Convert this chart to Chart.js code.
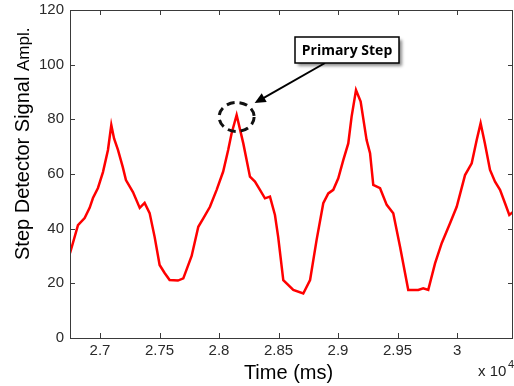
<!DOCTYPE html>
<html>
<head>
<meta charset="utf-8">
<script src="https://cdn.jsdelivr.net/npm/chart.js@4/dist/chart.umd.min.js"></script>
<style>
  html, body { margin: 0; padding: 0; background: #fff; }
  #wrap { width: 514px; height: 386px; position: relative; }
</style>
</head>
<body>
<div id="wrap"><canvas id="c" width="514" height="386"></canvas></div>
<script>
// ---- data ----
const times = [26748, 26815, 26871, 26913, 26941, 26983, 27025, 27067, 27095, 27118, 27151, 27191,
  27218, 27277, 27334, 27375, 27417, 27459, 27501, 27543, 27585, 27655, 27700, 27770,
  27826, 27868, 27924, 27980, 28035, 28077, 28106, 28148, 28204, 28260, 28302, 28344,
  28386, 28428, 28470, 28497, 28540, 28624, 28708, 28765, 28820, 28876, 28918, 28960,
  29002, 29044, 29086, 29114, 29151, 29190, 29240, 29269, 29296, 29353, 29409, 29464,
  29521, 29590, 29674, 29716, 29758, 29815, 29871, 29941, 29997, 30067, 30123, 30165,
  30198, 30234, 30277, 30319, 30361, 30403, 30439, 30473];
const amplitudes = [31, 41.3, 43.9, 47.6, 51.2, 54.9, 60.7, 68.8, 77.9, 73, 68.8, 62.6,
  57.8, 53.4, 47.6, 49.4, 45.7, 37, 26.7, 23.8, 21.2, 21, 21.8, 30,
  40.7, 43.8, 48, 54.2, 60.9, 68.8, 74.9, 81.6, 71.2, 59, 57.2, 54.2,
  51.1, 51.7, 45, 37, 21.2, 17.6, 16.3, 21.2, 35.9, 49.3, 52.9, 54.2,
  58.4, 65.1, 71.2, 81, 90.7, 86.5, 72.4, 67.6, 56, 54.8, 48.7, 45.6,
  33.4, 17.6, 17.6, 18.2, 17.6, 27.3, 34.7, 42, 48, 59.6, 63.9, 72.4,
  78.6, 71.2, 61.5, 57.2, 54.2, 49.3, 45, 46.2];
const xTickValues = [27000, 27500, 28000, 28500, 29000, 29500, 30000];
const xTickLabels = ['2.7', '2.75', '2.8', '2.85', '2.9', '2.95', '3'];
const yTickValues = [0, 20, 40, 60, 80, 100, 120];
const yTickLabels = ['0', '20', '40', '60', '80', '100', '120'];
const xMin = 26748, xMax = 30470;
const primaryStepTime = 28148, primaryStepValue = 81.6;
const annotationText = 'Primary Step';
const xTitle = 'Time (ms)';
const yTitleMain = 'Step Detector Signal';
const yTitleSmall = 'Ampl.';

const points = times.map((t, i) => ({ x: t, y: amplitudes[i] }));

const decor = {
  id: 'decor',
  afterDraw(chart) {
    const ctx = chart.ctx;
    const a = chart.chartArea;
    const xs = chart.scales.x, ys = chart.scales.y;
    ctx.save();
    // box
    ctx.strokeStyle = '#3a3a3a';
    ctx.lineWidth = 1;
    ctx.strokeRect(Math.round(a.left) + 0.5, Math.round(a.top) + 0.5,
      Math.round(a.right - a.left) - 1, Math.round(a.bottom - a.top));
    // inward ticks
    const tl = 5;
    ctx.beginPath();
    xTickValues.forEach(v => {
      const px = Math.round(xs.getPixelForValue(v)) + 0.5;
      ctx.moveTo(px, a.bottom); ctx.lineTo(px, a.bottom - tl);
      ctx.moveTo(px, a.top); ctx.lineTo(px, a.top + tl);
    });
    yTickValues.forEach(v => {
      const py = Math.round(ys.getPixelForValue(v)) + 0.5;
      ctx.moveTo(a.left, py); ctx.lineTo(a.left + tl, py);
      ctx.moveTo(a.right, py); ctx.lineTo(a.right - tl, py);
    });
    ctx.stroke();

    // axis titles
    ctx.fillStyle = '#000';
    ctx.font = '20px "Liberation Sans", Arial, sans-serif';
    ctx.textAlign = 'center';
    ctx.textBaseline = 'alphabetic';
    ctx.fillText(xTitle, (a.left + a.right) / 2 - 3, 379);

    ctx.save();
    ctx.translate(29, 260);
    ctx.rotate(-Math.PI / 2);
    ctx.textAlign = 'left';
    ctx.font = '20px "Liberation Sans", Arial, sans-serif';
    const mainStr = yTitleMain + ' ';
    ctx.fillText(mainStr, 0, 0);
    const w = ctx.measureText(mainStr).width;
    ctx.font = '17px "Liberation Sans", Arial, sans-serif';
    ctx.fillText(yTitleSmall, w, 0);
    ctx.restore();

    // x 10^4 multiplier
    ctx.fillStyle = '#222';
    ctx.textAlign = 'left';
    ctx.font = '15px "Liberation Sans", Arial, sans-serif';
    ctx.fillText('x 10', 478, 376);
    ctx.font = '11px "Liberation Sans", Arial, sans-serif';
    ctx.fillText('4', 508, 368);

    // annotation: dashed ellipse around the primary step peak
    const cx = xs.getPixelForValue(primaryStepTime);
    const cy = ys.getPixelForValue(primaryStepValue) + 2;
    ctx.strokeStyle = '#111';
    ctx.lineWidth = 3;
    ctx.setLineDash([8, 5]);
    ctx.beginPath();
    ctx.ellipse(cx, cy, 17.5, 14.5, 0, 0, Math.PI * 2);
    ctx.stroke();
    ctx.setLineDash([]);

    // arrow from label box to the ellipse
    const sx = 325, sy = 63;
    const ex = cx + 18, ey = cy - 14;
    ctx.strokeStyle = '#000';
    ctx.fillStyle = '#000';
    ctx.lineWidth = 2;
    const ang = Math.atan2(ey - sy, ex - sx);
    const hl = 11, hw = 5;
    const bx = ex - hl * Math.cos(ang), by = ey - hl * Math.sin(ang);
    ctx.beginPath();
    ctx.moveTo(sx, sy); ctx.lineTo(bx + 2 * Math.cos(ang), by + 2 * Math.sin(ang));
    ctx.stroke();
    ctx.beginPath();
    ctx.moveTo(ex, ey);
    ctx.lineTo(bx + hw * Math.sin(ang), by - hw * Math.cos(ang));
    ctx.lineTo(bx - hw * Math.sin(ang), by + hw * Math.cos(ang));
    ctx.closePath();
    ctx.fill();

    // label box with shadow
    const bxL = 295, byT = 37, bw = 104, bh = 26;
    ctx.save();
    ctx.shadowColor = 'rgba(0,0,0,0.45)';
    ctx.shadowOffsetX = 3; ctx.shadowOffsetY = 3; ctx.shadowBlur = 3;
    ctx.fillStyle = '#fff';
    ctx.fillRect(bxL, byT, bw, bh);
    ctx.restore();
    ctx.strokeStyle = '#000';
    ctx.lineWidth = 1.5;
    ctx.strokeRect(bxL, byT, bw, bh);
    ctx.fillStyle = '#000';
    ctx.font = 'bold 14px "Open Sans", "Liberation Sans", sans-serif';
    ctx.textAlign = 'center';
    ctx.textBaseline = 'middle';
    ctx.fillText(annotationText, bxL + bw / 2, byT + bh / 2 + 1);
    ctx.restore();
  }
};

const noPad = s => { s.paddingTop = 0; s.paddingBottom = 0; s.paddingLeft = 0; s.paddingRight = 0; };

new Chart(document.getElementById('c'), {
  type: 'line',
  data: {
    datasets: [{
      data: points,
      borderColor: '#ff0000',
      borderWidth: 2.5,
      pointRadius: 0,
      tension: 0,
      fill: false
    }]
  },
  options: {
    responsive: false,
    animation: false,
    events: [],
    layout: { padding: { top: 10, right: 1, left: 0, bottom: 0 } },
    plugins: { legend: { display: false }, tooltip: { enabled: false } },
    scales: {
      x: {
        type: 'linear',
        min: xMin, max: xMax,
        afterBuildTicks: s => { s.ticks = xTickValues.map(v => ({ value: v })); },
        afterFit: s => { s.height = 48; noPad(s); },
        grid: { display: false, drawTicks: false },
        border: { display: false },
        ticks: {
          autoSkip: false, maxRotation: 0, padding: 4,
          color: '#2a2a2a',
          font: { family: '"Liberation Sans", Arial, sans-serif', size: 15 },
          callback: (v, i) => xTickLabels[i]
        }
      },
      y: {
        min: 0, max: 120,
        afterBuildTicks: s => { s.ticks = yTickValues.map(v => ({ value: v })); },
        afterFit: s => { s.width = 70; noPad(s); },
        grid: { display: false, drawTicks: false },
        border: { display: false },
        ticks: {
          autoSkip: false, padding: 6,
          color: '#2a2a2a',
          font: { family: '"Liberation Sans", Arial, sans-serif', size: 15 },
          callback: (v, i) => yTickLabels[i]
        }
      }
    }
  },
  plugins: [decor]
});
</script>
</body>
</html>
